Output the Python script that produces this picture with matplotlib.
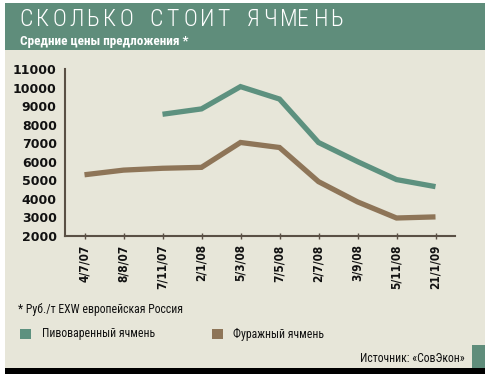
import matplotlib
matplotlib.use("Agg")
import matplotlib.pyplot as plt
from matplotlib import font_manager
from matplotlib.patches import Rectangle
import numpy as np

# dates of the offer price samples
dates = ["4/7/07", "8/8/07", "7/11/07", "2/1/08", "5/3/08",
         "7/5/08", "2/7/08", "3/9/08", "5/11/08", "21/1/09"]
# brewing barley (no data for the first two dates)
brewing = [np.nan, np.nan, 8560, 8850, 10050, 9380, 7040, 6010, 5040, 4660]
# feed barley
feed = [5300, 5550, 5650, 5700, 7040, 6770, 4930, 3840, 2970, 3030]

yticks = list(range(2000, 11001, 1000))

GREEN = "#5d917f"
BROWN = "#8e7558"
BG = "#e7e6d9"
HEAD = "#5f8d7b"

# pick a narrow font if one is installed
names = {f.name for f in font_manager.fontManager.ttflist}
narrow = "Liberation Sans"
narrow_stretch = "normal"
for cand in ["Liberation Sans Narrow", "Roboto Condensed", "Open Sans Condensed"]:
    if cand in names:
        narrow = cand
        break
else:
    for f in font_manager.fontManager.ttflist:
        if f.name == "DejaVu Sans" and f.stretch == "condensed":
            narrow = "DejaVu Sans"
            narrow_stretch = "condensed"
            break

W, H = 488, 380
fig = plt.figure(figsize=(W / 100, H / 100), dpi=100)
fig.patch.set_facecolor("white")


def px(x, y, w, h):
    # pixel box (top-left origin) -> figure fraction box
    return (x / W, 1 - (y + h) / H, w / W, h / H)


def add_rect(x, y, w, h, color):
    l, b, ww, hh = px(x, y, w, h)
    fig.patches.append(Rectangle((l, b), ww, hh, transform=fig.transFigure,
                                 facecolor=color, edgecolor="none", zorder=-5))


add_rect(5, 3, 480, 368, BG)
add_rect(5, 3, 480, 47, HEAD)
add_rect(5, 368, 480, 6, "black")
add_rect(472, 345, 13, 23, HEAD)

# spaced-out title, one letter per pitch step
title = "СКОЛЬКО СТОИТ ЯЧМЕНЬ"
xpos = 19
for ch in title:
    if ch == " ":
        xpos += 13
        continue
    fig.text(xpos / W, 1 - 19 / H, ch, color="white", fontsize=17,
             fontweight="light", family=narrow, stretch=narrow_stretch,
             va="center", ha="left")
    xpos += 16.8

fig.text(20 / W, 1 - 41 / H, "Средние цены предложения *", color="white",
         fontsize=9.5, fontweight="bold", family=narrow, stretch=narrow_stretch,
         va="center", ha="left")

ax = fig.add_axes(px(65, 69, 390, 167))
ax.set_facecolor("none")
x = np.arange(len(dates))
ax.plot(x, brewing, color=GREEN, lw=3.8, solid_joinstyle="miter",
        solid_capstyle="butt")
ax.plot(x, feed, color=BROWN, lw=3.8, solid_joinstyle="miter",
        solid_capstyle="butt")

ax.set_xlim(-0.5, 9.5)
ax.set_ylim(2000, 11000)
ax.set_yticks(yticks)
ax.set_yticklabels([str(v) for v in yticks], fontsize=9, fontweight="bold",
                   family="DejaVu Sans")
ax.set_xticks(x)
ax.set_xticklabels(dates, rotation=90, fontsize=8.5, fontweight="bold",
                   family="DejaVu Sans", stretch="condensed")
for s in ["top", "right"]:
    ax.spines[s].set_visible(False)
for s in ["left", "bottom"]:
    ax.spines[s].set_color("#5a5045")
    ax.spines[s].set_linewidth(1.5)
ax.tick_params(axis="y", length=0, pad=6, colors="#111111")
ax.tick_params(axis="x", length=4, width=1, color="#5a5045", direction="inout",
               pad=4, labelcolor="#111111")

fig.text(18 / W, 1 - 309 / H, "* Руб./т EXW европейская Россия",
         fontsize=8.5, family=narrow, stretch=narrow_stretch, va="center",
         color="#111111")
add_rect(20, 329, 11, 10, GREEN)
fig.text(42 / W, 1 - 334 / H, "Пивоваренный ячмень", fontsize=8.5,
         family=narrow, stretch=narrow_stretch, va="center", color="#111111")
add_rect(212, 329, 11, 10, BROWN)
fig.text(233 / W, 1 - 334 / H, "Фуражный ячмень", fontsize=8.5,
         family=narrow, stretch=narrow_stretch, va="center", color="#111111")
fig.text(465 / W, 1 - 359 / H, "Источник: «СовЭкон»", fontsize=8.5,
         family=narrow, stretch=narrow_stretch, va="center", ha="right",
         color="#111111")

fig.savefig("out.png", dpi=100, facecolor=fig.get_facecolor())
